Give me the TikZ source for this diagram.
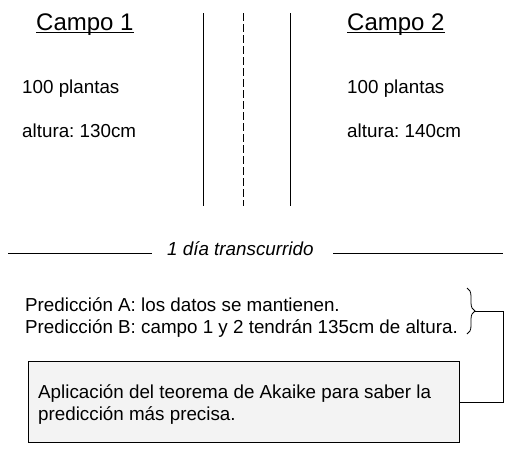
\documentclass[tikz,border=0pt]{standalone}
\usepackage{fontspec}
\setmainfont{Liberation Sans}
\frenchspacing
\usetikzlibrary{decorations.pathreplacing}
\definecolor{boxgray}{HTML}{F3F3F3}
\begin{document}
\begin{tikzpicture}[x=1pt,y=-1pt,
  txt/.style={inner sep=0pt,anchor=base west,font=\fontsize{18.8}{21.5}\selectfont},
  head/.style={inner sep=0pt,anchor=base west,font=\fontsize{24}{28}\selectfont},
  uline/.style={line width=1.3pt,black},
  sep/.style={line width=0.9pt,black},
  conn/.style={line width=0.9pt,black}]
\useasboundingbox (0,0) rectangle (520,459);
% headers
\node[head] (c1) at (36,30) {Campo 1};
\node[head] (c2) at (347,30) {Campo 2};
\draw[uline] ([yshift=-2.6pt]c1.base west) -- ([yshift=-2.6pt]c1.base east);
\draw[uline] ([yshift=-2.6pt]c2.base west) -- ([yshift=-2.6pt]c2.base east);
% field data
\node[txt] (p1) at (22,93) {100 plantas};
\node[txt] (a1) at (22,137) {altura: 130cm};
\node[txt] (p2) at (347,93) {100 plantas};
\node[txt] (a2) at (347,137) {altura: 140cm};
% separators
\coordinate (v1t) at (203,13); \coordinate (v1b) at (203,206);
\coordinate (v2t) at (243,13); \coordinate (v2b) at (243,206);
\coordinate (v3t) at (290.5,13); \coordinate (v3b) at (290.5,206);
\draw[sep] (v1t) -- (v1b);
\draw[sep,dash pattern=on 8pt off 3pt] (v2t) -- (v2b);
\draw[sep] (v3t) -- (v3b);
% time line
\node[txt,font=\fontsize{18.8}{21.5}\selectfont\itshape] (t) at (167,255) {1 día transcurrido};
\coordinate (h1a) at (8,253); \coordinate (h1b) at (152,253);
\coordinate (h2a) at (333,253); \coordinate (h2b) at (503,253);
\draw[sep] (h1a) -- (h1b);
\draw[sep] (h2a) -- (h2b);
% predictions
\node[txt,align=left,anchor=north west] (pred) at (25,297.5)
  {Predicción A: los datos se mantienen.\\Predicción B: campo 1 y 2 tendrán 135cm de altura.};
\coordinate (bt) at (467,288); \coordinate (bb) at (467,334);
\draw[conn,line width=0.8pt,decorate,decoration={brace,amplitude=8pt}] (bt) -- (bb);
\coordinate (tip) at (475,311);
% box
\node[draw=black,line width=0.9pt,fill=boxgray,minimum width=431pt,minimum height=81pt,
  anchor=north west,inner sep=0pt] (box) at (27.5,361) {};
\node[txt,align=left,anchor=north west] (boxt) at (38,384.5)
  {Aplicación del teorema de Akaike para saber la\\predicción más precisa.};
\coordinate (cr) at (503,311);
\draw[conn] (tip) -- (cr) |- (box.east |- 0,402);
\end{tikzpicture}
\end{document}
